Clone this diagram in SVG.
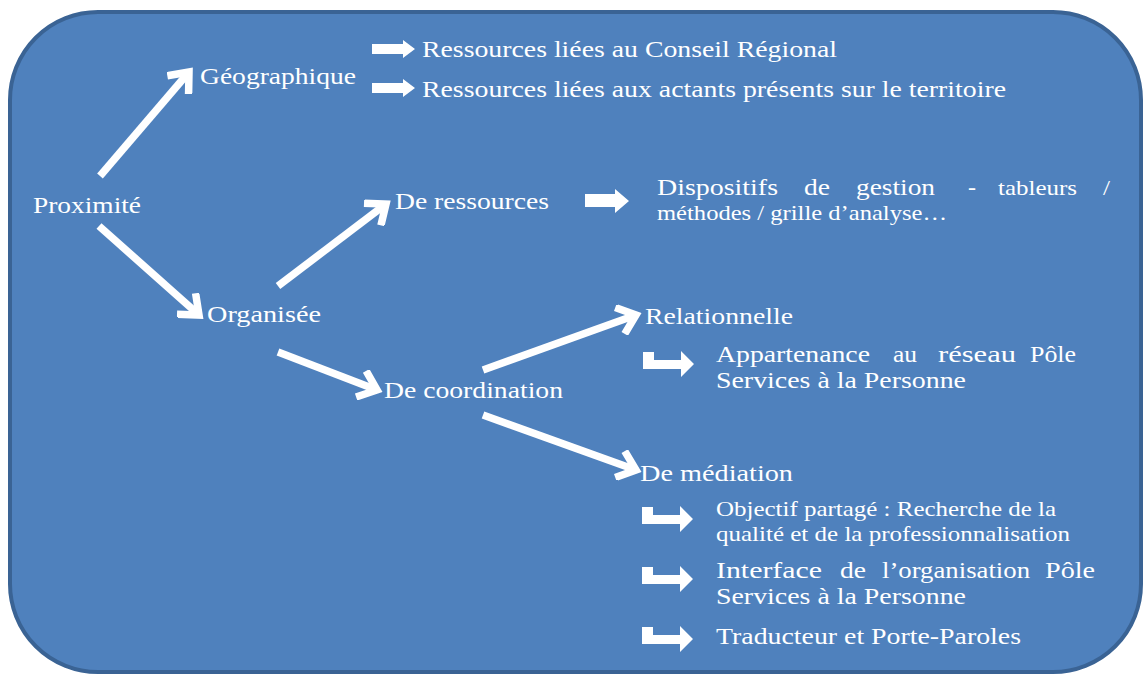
<svg xmlns="http://www.w3.org/2000/svg" width="1143" height="675" viewBox="0 0 1143 675">
<defs>
<style>
text{font-family:"Liberation Serif","Times New Roman",Tinos,serif;fill:#ffffff;font-size:24px}
.s{font-size:21px}
.c{stroke:#ffffff;stroke-width:7.5;fill:none}
.b{fill:#ffffff}
</style>
<marker id="chev" markerUnits="userSpaceOnUse" viewBox="-24 -16 30 32" refX="0" refY="0" markerWidth="30" markerHeight="32" orient="auto">
<path d="M-17,-14 L0,0 L-17,14" fill="none" stroke="#ffffff" stroke-width="7.5" stroke-linejoin="miter"/>
</marker>
<path id="ba" d="M0,4 H31 V0 L43,9 L31,18 V14 H0 Z"/>
<path id="bb" d="M0,5 H30 V0 L44,12 L30,24 V18 H0 Z"/>
<path id="bent" d="M0,0 H11 V8 H38 V-1 L51,12 L38,25 V17 H0 Z"/>
</defs>
<rect x="10" y="12" width="1131" height="660" rx="88" ry="88" fill="#4f81bd" stroke="#3a6394" stroke-width="4"/>

<g id="connectors">
<line class="c" x1="100" y1="176" x2="189" y2="72" marker-end="url(#chev)"/>
<line class="c" x1="99" y1="226" x2="199" y2="315" marker-end="url(#chev)"/>
<line class="c" x1="278" y1="286" x2="386" y2="204" marker-end="url(#chev)"/>
<line class="c" x1="278" y1="352" x2="377" y2="390" marker-end="url(#chev)"/>
<line class="c" x1="483" y1="370" x2="636" y2="315" marker-end="url(#chev)"/>
<line class="c" x1="483" y1="415" x2="636" y2="470" marker-end="url(#chev)"/>
<use href="#ba" class="b" x="372" y="40"/>
<use href="#ba" class="b" x="372" y="79"/>
<use href="#bb" class="b" x="585" y="189"/>
<use href="#bent" class="b" x="643" y="352"/>
<use href="#bent" class="b" x="642" y="507"/>
<use href="#bent" class="b" x="642" y="567"/>
<use href="#bent" class="b" x="642" y="627"/>
</g>

<g id="n-proximite" font-family="Liberation Serif, serif"><text x="33" y="213" textLength="108" lengthAdjust="spacingAndGlyphs">Proximité</text></g>
<g id="n-geographique"><text x="200" y="84" textLength="156" lengthAdjust="spacingAndGlyphs">Géographique</text></g>
<g id="n-conseil"><text x="422" y="57" textLength="415" lengthAdjust="spacingAndGlyphs">Ressources liées au Conseil Régional</text></g>
<g id="n-actants"><text x="422" y="97" textLength="584" lengthAdjust="spacingAndGlyphs">Ressources liées aux actants présents sur le territoire</text></g>
<g id="n-ressources"><text x="395" y="209" textLength="154" lengthAdjust="spacingAndGlyphs">De ressources</text></g>
<g id="n-dispositifs">
<text x="657" y="195" textLength="121" lengthAdjust="spacingAndGlyphs">Dispositifs</text>
<text x="804" y="195" textLength="26" lengthAdjust="spacingAndGlyphs">de</text>
<text x="856" y="195" textLength="79" lengthAdjust="spacingAndGlyphs">gestion</text>
<text x="968" y="195" textLength="8" lengthAdjust="spacingAndGlyphs">-</text>
<text class="s" x="998" y="195" textLength="79" lengthAdjust="spacingAndGlyphs">tableurs</text>
<text class="s" x="1103" y="195" textLength="7" lengthAdjust="spacingAndGlyphs">/</text>
<text class="s" x="657" y="220" textLength="290" lengthAdjust="spacingAndGlyphs">méthodes / grille d’analyse…</text>
</g>
<g id="n-organisee"><text x="207" y="322" textLength="114" lengthAdjust="spacingAndGlyphs">Organisée</text></g>
<g id="n-coordination"><text x="384" y="398" textLength="179" lengthAdjust="spacingAndGlyphs">De coordination</text></g>
<g id="n-relationnelle"><text x="645" y="324" textLength="148" lengthAdjust="spacingAndGlyphs">Relationnelle</text></g>
<g id="n-appartenance">
<text x="716" y="362" textLength="154" lengthAdjust="spacingAndGlyphs">Appartenance</text>
<text x="893" y="362" textLength="24" lengthAdjust="spacingAndGlyphs">au</text>
<text x="938" y="362" textLength="78" lengthAdjust="spacingAndGlyphs">réseau</text>
<text x="1030" y="362" textLength="46" lengthAdjust="spacingAndGlyphs">Pôle</text>
<text x="716" y="388" textLength="250" lengthAdjust="spacingAndGlyphs">Services à la Personne</text>
</g>
<g id="n-mediation"><text x="640" y="481" textLength="153" lengthAdjust="spacingAndGlyphs">De médiation</text></g>
<g id="n-objectif">
<text class="s" x="716" y="516" textLength="340" lengthAdjust="spacingAndGlyphs">Objectif partagé : Recherche de la</text>
<text class="s" x="716" y="541" textLength="354" lengthAdjust="spacingAndGlyphs">qualité et de la professionnalisation</text>
</g>
<g id="n-interface">
<text x="716" y="578" textLength="106" lengthAdjust="spacingAndGlyphs">Interface</text>
<text x="840" y="578" textLength="26" lengthAdjust="spacingAndGlyphs">de</text>
<text x="882" y="578" textLength="148" lengthAdjust="spacingAndGlyphs">l’organisation</text>
<text x="1045" y="578" textLength="50" lengthAdjust="spacingAndGlyphs">Pôle</text>
<text x="716" y="604" textLength="250" lengthAdjust="spacingAndGlyphs">Services à la Personne</text>
</g>
<g id="n-traducteur"><text x="716" y="644" textLength="305" lengthAdjust="spacingAndGlyphs">Traducteur et Porte-Paroles</text></g>
</svg>
